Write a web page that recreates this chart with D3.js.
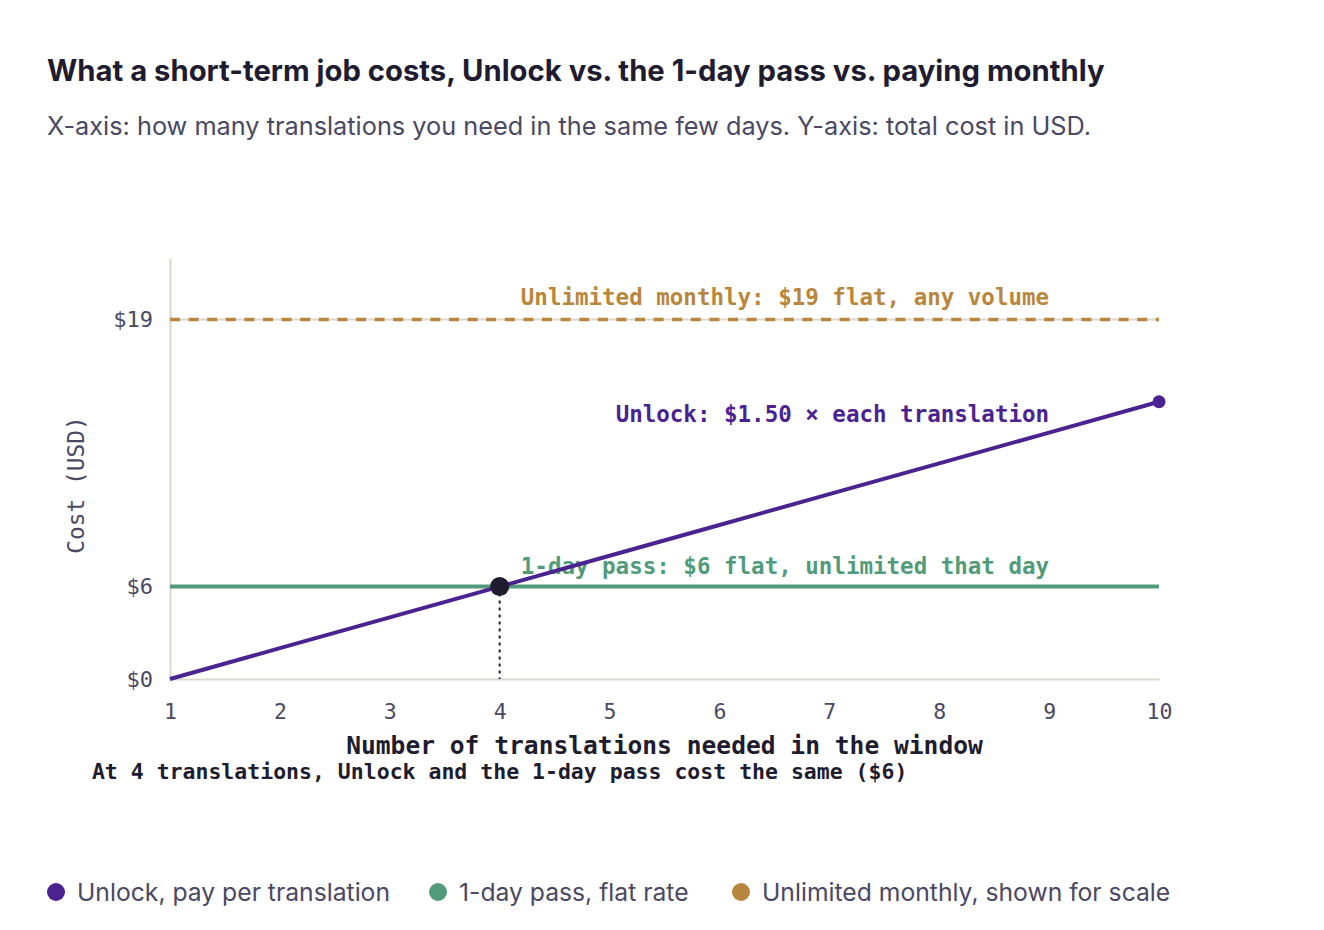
<!DOCTYPE html>
<html>
<head>
<meta charset="utf-8">
<script src="https://cdn.jsdelivr.net/npm/d3@7"></script>
<style>
  html, body { margin: 0; padding: 0; background: #ffffff; }
  svg { display: block; }
</style>
</head>
<body>
<svg id="chart" width="1324" height="930"></svg>
<script>
// ---- data ----
const titleText = "What a short-term job costs, Unlock vs. the 1-day pass vs. paying monthly";
const subtitleText = "X-axis: how many translations you need in the same few days. Y-axis: total cost in USD.";
const translations = [1, 2, 3, 4, 5, 6, 7, 8, 9, 10];
const unlockCost = [1.5, 3, 4.5, 6, 7.5, 9, 10.5, 12, 13.5, 15];
const dayPassCost = [6, 6, 6, 6, 6, 6, 6, 6, 6, 6];
const monthlyCost = [19, 19, 19, 19, 19, 19, 19, 19, 19, 19];
const breakEven = [4, 6];
const yTickValues = [0, 6, 19];
const yTickLabels = ["$0", "$6", "$19"];
const xTickValues = [1, 2, 3, 4, 5, 6, 7, 8, 9, 10];
const seriesNames = ["Unlock, pay per translation", "1-day pass, flat rate", "Unlimited monthly, shown for scale"];
const seriesLabels = ["Unlock: $1.50 × each translation", "1-day pass: $6 flat, unlimited that day", "Unlimited monthly: $19 flat, any volume"];
const xAxisTitle = "Number of translations needed in the window";
const yAxisTitle = "Cost (USD)";
const noteText = "At 4 translations, Unlock and the 1-day pass cost the same ($6)";

// ---- styles ----
const C = { unlock: "#4b2390", pass: "#519b7a", monthly: "#b9863d", ink: "#1e1c2e", muted: "#4a4862", axis: "#dcd8cc" };
const SANS = "Inter, 'Noto Sans', sans-serif";
const MONO = "'DejaVu Sans Mono', monospace";

const svg = d3.select("#chart");
const x = d3.scaleLinear().domain([1, 10]).range([170, 1159]);
const y = d3.scaleLinear().domain([1.5, 22]).range([679, 258]).clamp(true);

svg.append("text").attr("x", 47).attr("y", 81).text(titleText)
  .attr("font-family", SANS).attr("font-weight", 700).attr("font-size", 29.25).attr("fill", C.ink);
svg.append("text").attr("x", 47).attr("y", 135).text(subtitleText)
  .attr("font-family", SANS).attr("font-weight", 400).attr("font-size", 25.3).attr("fill", C.muted);

// axes
const gx = svg.append("g").attr("transform", `translate(0,${y(0)})`)
  .call(d3.axisBottom(x).tickValues(xTickValues).tickSize(0).tickPadding(25).tickFormat(d3.format("d")));
gx.select(".domain").attr("stroke", C.axis).attr("stroke-width", 2);
gx.selectAll("text").attr("font-family", MONO).attr("font-size", 21.5).attr("fill", C.muted);

const gy = svg.append("g").attr("transform", `translate(${x(1)},0)`)
  .call(d3.axisLeft(y).tickValues(yTickValues).tickSize(0).tickPadding(17).tickFormat((d, i) => yTickLabels[i]));
gy.select(".domain").attr("stroke", C.axis).attr("stroke-width", 2);
gy.selectAll("text").attr("font-family", MONO).attr("font-size", 22).attr("fill", C.muted);

// gridline at $19
svg.append("line").attr("x1", x(1)).attr("x2", x(10)).attr("y1", y(19)).attr("y2", y(19))
  .attr("stroke", C.axis).attr("stroke-width", 2);

// series labels (under lines)
const labelStyle = s => s.attr("font-family", MONO).attr("font-weight", 700).attr("font-size", 22.5).attr("text-anchor", "end");
svg.append("text").attr("x", x(9)).attr("y", y(19) - 15).text(seriesLabels[2]).call(labelStyle).attr("fill", C.monthly);
svg.append("text").attr("x", x(9)).attr("y", y(13.5) - 11).text(seriesLabels[0]).call(labelStyle).attr("fill", C.unlock);
svg.append("text").attr("x", x(9)).attr("y", y(6) - 13).text(seriesLabels[1]).call(labelStyle).attr("fill", C.pass);

const line = d3.line().x((d, i) => x(translations[i])).y(d => y(d));

svg.append("path").datum(monthlyCost).attr("d", line).attr("fill", "none")
  .attr("stroke", C.monthly).attr("stroke-width", 3.5).attr("stroke-dasharray", "10 8.6");
svg.append("path").datum(dayPassCost).attr("d", line).attr("fill", "none")
  .attr("stroke", C.pass).attr("stroke-width", 4);

// break-even dotted drop line
svg.append("line").attr("x1", x(breakEven[0])).attr("x2", x(breakEven[0]))
  .attr("y1", y(breakEven[1])).attr("y2", y(0))
  .attr("stroke", C.ink).attr("stroke-width", 2).attr("stroke-dasharray", "3 4");

svg.append("path").datum(unlockCost).attr("d", line).attr("fill", "none")
  .attr("stroke", C.unlock).attr("stroke-width", 4);
svg.append("circle").attr("cx", x(10)).attr("cy", y(unlockCost[9])).attr("r", 6.5).attr("fill", C.unlock);
svg.append("circle").attr("cx", x(breakEven[0])).attr("cy", y(breakEven[1])).attr("r", 9.5).attr("fill", C.ink);

// axis titles
svg.append("text").attr("x", (x(1) + x(10)) / 2).attr("y", 754).attr("text-anchor", "middle").text(xAxisTitle)
  .attr("font-family", MONO).attr("font-weight", 700).attr("font-size", 24.6).attr("fill", C.ink);
svg.append("text").attr("x", x(breakEven[0])).attr("y", 779).attr("text-anchor", "middle").text(noteText)
  .attr("font-family", MONO).attr("font-weight", 700).attr("font-size", 21.5).attr("fill", C.ink);
svg.append("text").attr("transform", "translate(84,485) rotate(-90)").attr("text-anchor", "middle").text(yAxisTitle)
  .attr("font-family", MONO).attr("font-size", 22.8).attr("fill", C.muted);

// legend
const legendColors = [C.unlock, C.pass, C.monthly];
const legendX = [56, 438, 741];
const lg = svg.append("g").selectAll("g").data(seriesNames).join("g")
  .attr("transform", (d, i) => `translate(${legendX[i]},892)`);
lg.append("circle").attr("r", 9).attr("fill", (d, i) => legendColors[i]);
lg.append("text").attr("x", 21).attr("y", 8.5).text(d => d)
  .attr("font-family", SANS).attr("font-size", 24.7).attr("fill", C.muted);
</script>
</body>
</html>
